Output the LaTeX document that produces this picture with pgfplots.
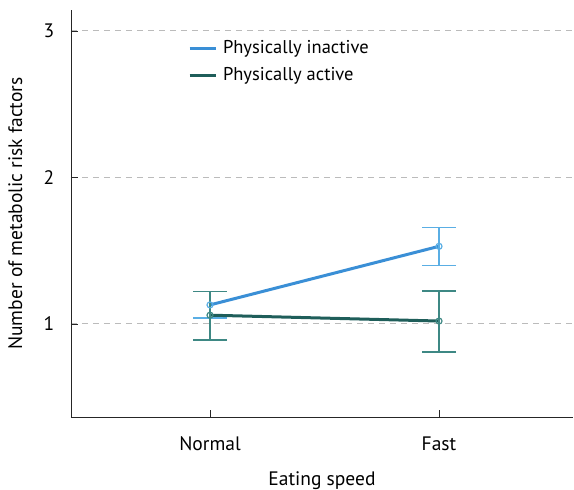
\documentclass[border=0pt]{standalone}
\usepackage{pgfplots}
\pgfplotsset{compat=1.18}
\usepackage{fontspec}
\setmainfont{PT Sans}
\definecolor{inactL}{HTML}{3A8FD6}
\definecolor{inactE}{HTML}{5AAEE4}
\definecolor{actL}{HTML}{1F5E5A}
\definecolor{actE}{HTML}{3E8884}
\definecolor{gridc}{HTML}{BBBBBB}
\begin{document}
\fontsize{19.5}{23}\selectfont
\begin{tikzpicture}[x=1pt,y=1pt]
\begin{axis}[
  scale only axis, width=502pt, height=407pt,
  xmin=-0.607, xmax=1.585, ymin=0.365, ymax=3.143,
  axis x line*=bottom, axis y line*=left,
  axis line style={-, line width=0.9pt, black!85},
  xtick={0,1}, xticklabels={Normal,Fast},
  ytick={1,2,3},
  tick align=inside, major tick length=7pt,
  tick style={black!85, line width=0.8pt},
  ymajorgrids, major grid style={gridc, dashed, line width=1pt, dash pattern=on 6pt off 5pt},
  /pgf/number format/assume math mode=true,
  ticklabel style={font=\fontsize{19.5}{23}\selectfont},
  xticklabel style={yshift=-13pt},
  yticklabel style={xshift=-10pt},
  label style={font=\fontsize{19.5}{23}\selectfont},
  xlabel={Eating speed}, ylabel={Number of metabolic risk factors},
  xlabel style={yshift=-8pt},
  ylabel style={yshift=8pt},
  legend style={draw=none, fill=none, at={(axis cs:-0.11,2.965)}, anchor=north west,
    font=\fontsize{18.5}{22}\selectfont, row sep=7pt, cells={anchor=west}},
  legend image code/.code={\draw[#1, mark=none, line width=3pt] (0pt,0pt) -- (26pt,0pt);},
  clip=false,
]
\addplot[inactL, line width=3pt, mark=o, mark size=3pt,
  mark options={inactE, line width=1.2pt},
  error bars/.cd, y dir=both, y explicit,
  error bar style={inactE, line width=1.5pt},
  error mark options={rotate=90, mark size=17pt, line width=1.5pt, inactE}]
  coordinates {(0,1.13) +- (0.09,0.09) (1,1.53) +- (0.13,0.13)};
\addlegendentry{\hspace{4pt}Physically inactive}
\addplot[actL, line width=3pt, mark=o, mark size=3pt,
  mark options={actE, line width=1.2pt},
  error bars/.cd, y dir=plus, y explicit,
  error bar style={actE, line width=1.5pt},
  error mark options={rotate=90, mark size=17pt, line width=1.5pt, actE}]
  coordinates {(0,1.06) += (0,0.16) (1,1.02) += (0,0.205)};
\addlegendentry{\hspace{4pt}Physically active}
\addplot[draw=none, mark=none, forget plot,
  error bars/.cd, y dir=minus, y explicit,
  error bar style={actE, line width=1.5pt},
  error mark options={rotate=90, mark size=17pt, line width=1.5pt, actE}]
  coordinates {(0,1.06) -= (0,0.17) (1,1.02) -= (0,0.21)};
\end{axis}
\pgfresetboundingbox
\path (current axis.south west) ++(-71pt,-73pt) coordinate (bl);
\path (current axis.north east) ++(1pt,10pt) coordinate (tr);
\path[use as bounding box] (bl) rectangle (tr);
\end{tikzpicture}
\end{document}
